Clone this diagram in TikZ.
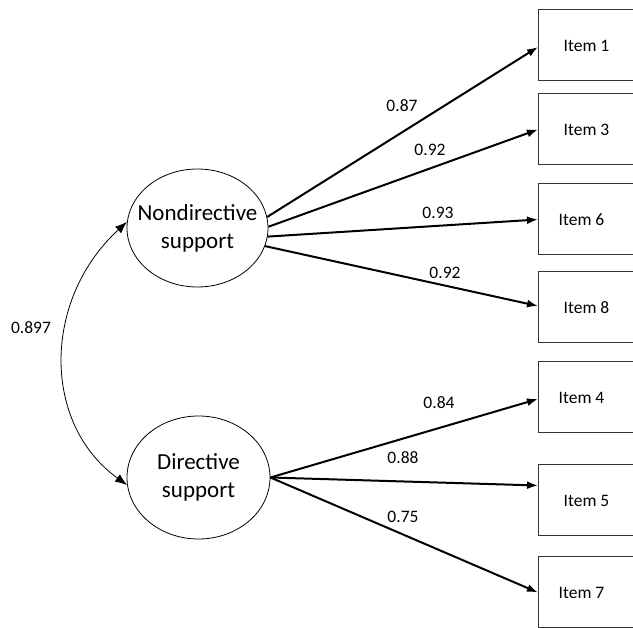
\documentclass[tikz,border=0pt]{standalone}
\usepackage{fontspec}
\setmainfont{Carlito}
\usetikzlibrary{arrows.meta,calc,shapes.geometric}
\begin{document}
\begin{tikzpicture}[x=1pt,y=-1pt,
  latent/.style={draw, ellipse, line width=0.8pt, inner sep=0pt, align=center,
    font=\fontsize{23}{28}\selectfont},
  itembox/.style={draw=black!80, line width=1pt, minimum width=96pt, minimum height=71pt,
    inner sep=0pt, anchor=west, font=\fontsize{17.5}{21}\selectfont},
  loading/.style={line width=2pt, -{Latex[length=11pt,width=8pt]}},
  cov/.style={line width=0.8pt, {Latex[length=12pt,width=9pt]}-{Latex[length=12pt,width=9pt]}},
  num/.style={font=\fontsize{17.5}{21}\selectfont, inner sep=0pt}
]
\useasboundingbox (0,0) rectangle (633,628);
\clip (0,0) rectangle (633,628);

% latent variables
\node[latent, inner xsep=-11pt, minimum width=141pt, minimum height=118pt] (nd) at (197.5,228) {Nondirective\\support};
\node[latent, minimum width=143pt, minimum height=123pt] (dr) at (198.5,477.5) {Directive\\support};

% items
\node[itembox] (i1) at (538,45.5) {Item 1};
\node[itembox] (i3) at (538,129.5) {Item 3};
\node[itembox] (i6) at (538,219.5) {Item 6\hspace*{10pt}};
\node[itembox] (i8) at (538,307.5) {Item 8};
\node[itembox] (i4) at (538,397.5) {Item 4\hspace*{10pt}};
\node[itembox] (i5) at (538,500.5) {Item 5};
\node[itembox] (i7) at (538,592.5) {Item 7\hspace*{10pt}};

% loadings
\draw[loading] (nd.9) -- ([yshift=-1.5pt]i1.west);
\draw[loading] (nd.1.7) -- (i3.west);
\draw[loading] (nd.353.4) -- (i6.west);
\draw[loading] (nd.345) -- ([yshift=1.5pt]i8.west);
\draw[loading] (dr.east) -- ([yshift=-1.5pt]i4.west);
\draw[loading] (dr.east) -- ([yshift=15pt]i5.west);
\draw[loading] (dr.east) -- (i7.west);

% covariance
\draw[cov] (nd.175) .. controls (42,300) and (42,424) .. (dr.186);

% labels
\node[num] (l1) at (402,106) {0.87};
\node[num] (l3) at (430,150) {0.92};
\node[num] (l6) at (438,213) {0.93};
\node[num] (l8) at (445,273) {0.92};
\node[num] (l4) at (439,403) {0.84};
\node[num] (l5) at (403,458) {0.88};
\node[num] (l7) at (403,517) {0.75};
\node[num] (lc) at (31,328) {0.897};
\end{tikzpicture}
\end{document}
